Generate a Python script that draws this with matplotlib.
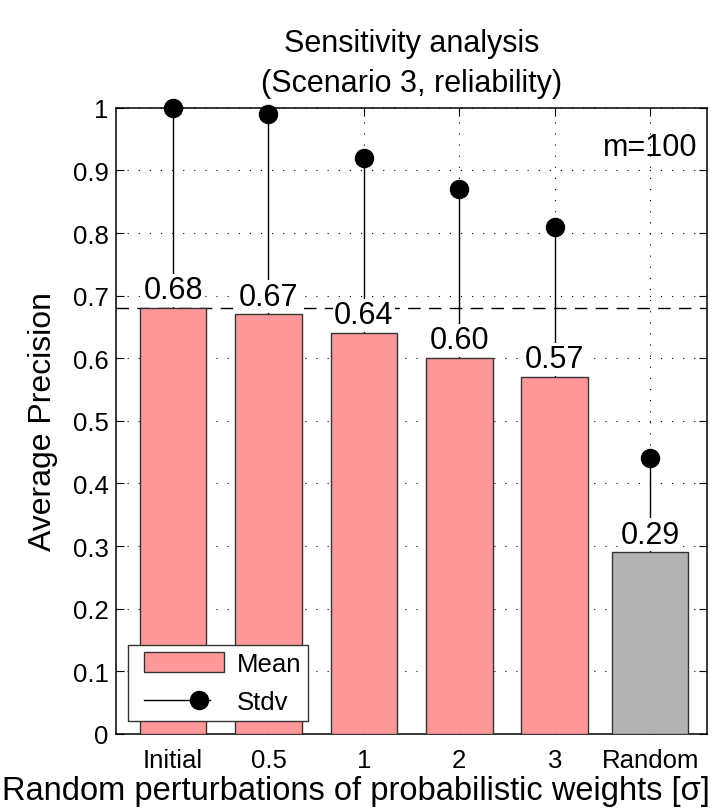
import matplotlib
matplotlib.use('Agg')
import matplotlib.pyplot as plt
from matplotlib.lines import Line2D
from matplotlib.patches import Rectangle
from matplotlib.legend_handler import HandlerBase
from matplotlib.ticker import FuncFormatter

plt.rcParams['font.family'] = ['Liberation Sans', 'DejaVu Sans']

# data
categories = ['Initial', '0.5', '1', '2', '3', 'Random']
means = [0.68, 0.67, 0.64, 0.60, 0.57, 0.29]
stdv = [0.32, 0.32, 0.28, 0.27, 0.24, 0.15]
baseline = 0.68

pink = '#FF9999'
grey = '#B3B3B3'
LEFT_GAP = 7  # extra room left of the legend handles (px)


class BarHandler(HandlerBase):
    def create_artists(self, legend, orig_handle, xdescent, ydescent,
                       width, height, fontsize, trans):
        x0 = -xdescent + LEFT_GAP
        h = height * 0.95
        r = Rectangle((x0, -ydescent + (height - h) / 2), width - LEFT_GAP, h,
                      facecolor=pink, edgecolor='#333333', lw=1)
        r.set_transform(trans)
        return [r]


class StemHandler(HandlerBase):
    # line with the dot near the right end, like the matlab legend
    def create_artists(self, legend, orig_handle, xdescent, ydescent,
                       width, height, fontsize, trans):
        y = height / 2 - ydescent
        x0 = -xdescent + LEFT_GAP
        w = width - LEFT_GAP
        line = Line2D([x0, x0 + w * 0.82], [y, y], color='k', lw=1)
        dot = Line2D([x0 + w * 0.69], [y], marker='o', ms=13,
                     color='k', ls='none')
        line.set_transform(trans)
        dot.set_transform(trans)
        return [line, dot]


class StemKey:
    pass


class BarKey:
    pass


fig = plt.figure(figsize=(7.19, 8.12), dpi=100)
ax = fig.add_axes([0.161, 0.095, 0.823, 0.771])

x = list(range(1, len(categories) + 1))
tops = [m + s for m, s in zip(means, stdv)]

# stems (behind bars) and dots
ax.vlines(x, 0, tops, color='k', lw=1, zorder=2)
ax.plot(x, tops, 'o', color='k', ms=13, zorder=5, clip_on=False)

# dashed reference at the initial mean
ax.axhline(baseline, color='k', lw=1, ls=(0, (9, 6)), zorder=2.5)

# bars
ax.bar(x[:-1], means[:-1], width=0.7, color=pink, edgecolor='#333333',
       lw=1, zorder=3)
ax.bar(x[-1:], means[-1:], width=0.8, color=grey, edgecolor='#333333',
       lw=1, zorder=3)

for xi, m in zip(x, means):
    ax.annotate('%.2f' % m, (xi, m), xytext=(0, 2), textcoords='offset points',
                ha='center', va='bottom', fontsize=22, zorder=4,
                bbox=dict(boxstyle='square,pad=0.05', facecolor='white',
                          edgecolor='none'))

ax.text(6.5, 0.937, 'm=100', ha='right', va='center', fontsize=22)

ax.set_xlim(0.4, 6.6)
ax.set_ylim(0, 1)
ax.set_xticks(x)
ax.set_xticklabels(categories)
ax.set_yticks([i / 10 for i in range(11)])
ax.yaxis.set_major_formatter(FuncFormatter(lambda v, p: '%g' % round(v, 1)))
ax.tick_params(direction='in', top=True, right=True, length=6,
               labelsize=18.5)
ax.tick_params(axis='x', pad=10)
ax.tick_params(axis='y', pad=5)
ax.grid(True, color='k', lw=0.8, ls=(0, (1, 9)), zorder=0)
ax.set_axisbelow(True)
for sp in ax.spines.values():
    sp.set_linewidth(1.1)

ax.set_title('Sensitivity analysis\n(Scenario 3, reliability)', fontsize=22,
             pad=12, linespacing=1.45)
ax.set_ylabel('Average Precision', fontsize=23)
ax.yaxis.set_label_coords(-0.097, 0.5)
ax.set_xlabel('Random perturbations of probabilistic weights [\u03c3]',
              fontsize=23.5)
ax.xaxis.set_label_coords(0.406, -0.066)

leg = ax.legend([BarKey(), StemKey()], ['Mean', 'Stdv'], loc='lower left',
                bbox_to_anchor=(0.02, 0.021), borderaxespad=0, fontsize=18.5,
                frameon=True, fancybox=False, edgecolor='#333333',
                framealpha=1, handlelength=3.5, handleheight=0.9,
                borderpad=0.25, labelspacing=0.55, handletextpad=0.5,
                handler_map={BarKey: BarHandler(), StemKey: StemHandler()})
leg.get_frame().set_linewidth(1)
leg.set_zorder(6)

fig.savefig('out.png', dpi=100, facecolor='white')
